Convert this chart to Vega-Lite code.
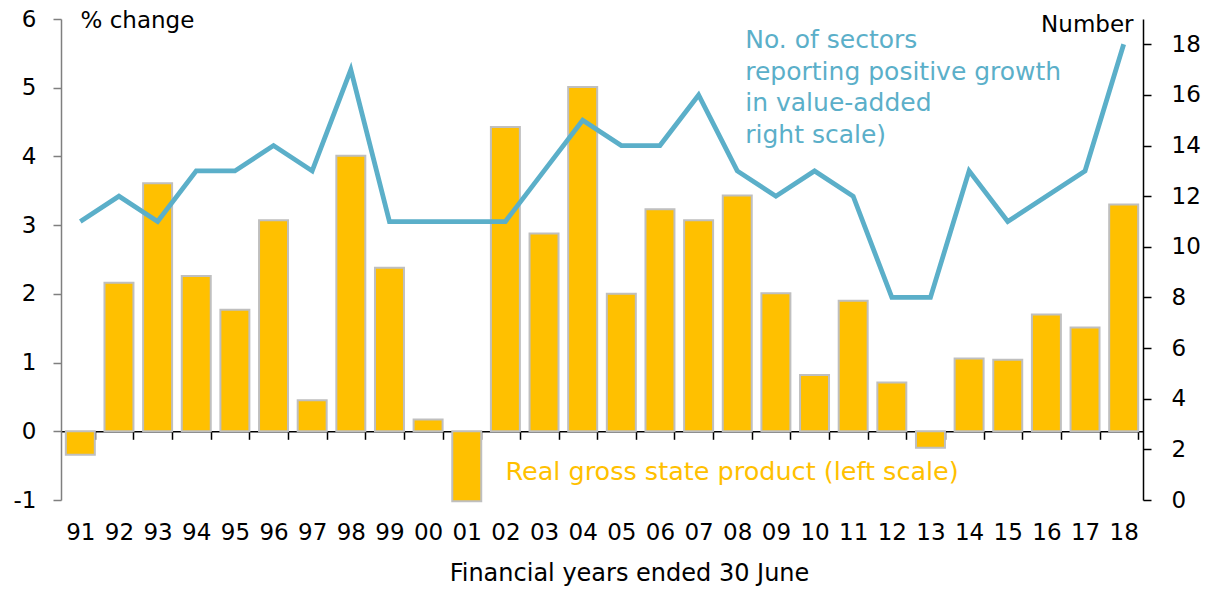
{
  "$schema": "https://vega.github.io/schema/vega-lite/v6.json",
  "width": 1082,
  "height": 481,
  "autosize": {"type": "none"},
  "padding": {"left": 61, "top": 19, "right": 64, "bottom": 89},
  "background": "white",
  "config": {
    "view": {"stroke": null},
    "font": "DejaVu Sans",
    "axis": {"labelFont": "DejaVu Sans", "titleFont": "DejaVu Sans", "labelColor": "#000000", "titleColor": "#000000", "labelFontSize": 23, "titleFontSize": 23, "titleFontWeight": "normal", "grid": false}
  },
  "data": {
    "values": [
      {"year": "91", "gsp": -0.34, "sectors": 11},
      {"year": "92", "gsp": 2.16, "sectors": 12},
      {"year": "93", "gsp": 3.61, "sectors": 11},
      {"year": "94", "gsp": 2.26, "sectors": 13},
      {"year": "95", "gsp": 1.77, "sectors": 13},
      {"year": "96", "gsp": 3.07, "sectors": 14},
      {"year": "97", "gsp": 0.45, "sectors": 13},
      {"year": "98", "gsp": 4.01, "sectors": 17},
      {"year": "99", "gsp": 2.38, "sectors": 11},
      {"year": "00", "gsp": 0.17, "sectors": 11},
      {"year": "01", "gsp": -1.02, "sectors": 11},
      {"year": "02", "gsp": 4.43, "sectors": 11},
      {"year": "03", "gsp": 2.88, "sectors": 13},
      {"year": "04", "gsp": 5.01, "sectors": 15},
      {"year": "05", "gsp": 2.0, "sectors": 14},
      {"year": "06", "gsp": 3.23, "sectors": 14},
      {"year": "07", "gsp": 3.07, "sectors": 16},
      {"year": "08", "gsp": 3.43, "sectors": 13},
      {"year": "09", "gsp": 2.01, "sectors": 12},
      {"year": "10", "gsp": 0.82, "sectors": 13},
      {"year": "11", "gsp": 1.9, "sectors": 12},
      {"year": "12", "gsp": 0.71, "sectors": 8},
      {"year": "13", "gsp": -0.24, "sectors": 8},
      {"year": "14", "gsp": 1.06, "sectors": 13},
      {"year": "15", "gsp": 1.04, "sectors": 11},
      {"year": "16", "gsp": 1.7, "sectors": 12},
      {"year": "17", "gsp": 1.51, "sectors": 13},
      {"year": "18", "gsp": 3.3, "sectors": 18}
    ]
  },
  "layer": [
    {
      "layer": [
        {
          "mark": {"type": "bar", "color": "#FFC000", "stroke": "#BFBFBF", "strokeWidth": 2},
          "encoding": {
            "x": {
              "field": "year", "type": "ordinal", "sort": null,
              "scale": {"paddingInner": 0.25, "paddingOuter": 0.125},
              "axis": {
                "title": "Financial years ended 30 June",
                "offset": -68.7,
                "tickBand": "extent",
                "tickSize": 8,
                "tickColor": "#000000",
                "tickWidth": 1.5,
                "domainColor": "#000000",
                "domainWidth": 1.5,
                "labelAngle": 0,
                "labelBaseline": "middle",
                "labelPadding": 93,
                "titleBaseline": "middle",
                "titleFontSize": 24,
                "titleY": 142,
                "titleX": 568
              }
            },
            "y": {
              "field": "gsp", "type": "quantitative",
              "scale": {"domain": [-1, 6], "nice": false},
              "axis": {
                "title": "% change",
                "labelExpr": "'' + datum.value",
                "values": [-1, 0, 1, 2, 3, 4, 5, 6],
                "domainColor": "#7F7F7F",
                "domainWidth": 1.5,
                "tickColor": "#7F7F7F",
                "tickWidth": 1.5,
                "tickSize": 8,
                "labelPadding": 17,
                "titleAngle": 0,
                "titleAlign": "left",
                "titleBaseline": "middle",
                "titleX": 19,
                "titleY": 1
              }
            }
          }
        },
        {
          "data": {"values": [{"year": "02", "v": -0.59, "label": "Real gross state product (left scale)"}]},
          "mark": {"type": "text", "align": "left", "baseline": "middle", "color": "#FFC000", "fontSize": 25.5, "font": "DejaVu Sans"},
          "encoding": {
            "x": {"field": "year", "type": "ordinal", "sort": null},
            "y": {"field": "v", "type": "quantitative"},
            "text": {"field": "label"}
          }
        },
        {
          "data": {"values": [{"year": "08", "v": 5.69, "label": "No. of sectors\nreporting positive growth\nin value-added\nright scale)"}]},
          "mark": {"type": "text", "align": "left", "baseline": "middle", "dx": 8, "color": "#5BAFC9", "fontSize": 25, "font": "DejaVu Sans", "lineBreak": "\n", "lineHeight": 31.5},
          "encoding": {
            "x": {"field": "year", "type": "ordinal", "sort": null},
            "y": {"field": "v", "type": "quantitative"},
            "text": {"field": "label"}
          }
        }
      ]
    },
    {
      "mark": {"type": "line", "color": "#5BAFC9", "strokeWidth": 4.8, "strokeJoin": "miter"},
      "encoding": {
        "x": {"field": "year", "type": "ordinal", "sort": null},
        "y": {
          "field": "sectors", "type": "quantitative",
          "scale": {"domain": [0, 19], "nice": false},
          "axis": {
            "orient": "right",
            "title": "Number",
            "values": [0, 2, 4, 6, 8, 10, 12, 14, 16, 18],
            "domainColor": "#000000",
            "domainWidth": 1.5,
            "tickColor": "#000000",
            "tickWidth": 1.5,
            "tickSize": 8,
            "labelPadding": 20,
            "titleAngle": 0,
            "titleAlign": "right",
            "titleBaseline": "middle",
            "titleX": -10,
            "titleY": 5
          }
        }
      }
    }
  ],
  "resolve": {"scale": {"y": "independent"}}
}
